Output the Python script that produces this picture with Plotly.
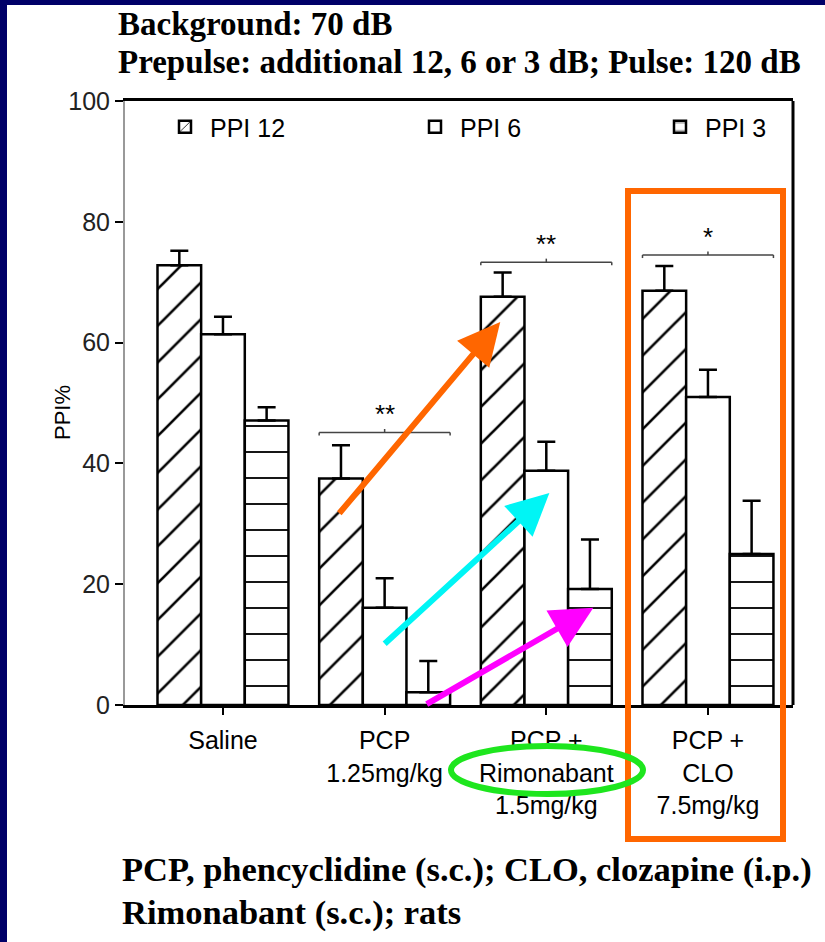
import plotly.graph_objects as go

# ---------------- data ----------------
categories = ["Saline", "PCP<br>1.25mg/kg", "PCP +<br>Rimonabant<br>1.5mg/kg", "PCP +<br>CLO<br>7.5mg/kg"]
series_names = ["PPI 12", "PPI 6", "PPI 3"]
ppi12 = [72.8, 37.5, 67.6, 68.6]
ppi12_err = [2.4, 5.5, 4.0, 4.1]
ppi6 = [61.4, 16.1, 38.8, 51.0]
ppi6_err = [2.9, 4.9, 4.8, 4.5]
ppi3 = [47.1, 2.1, 19.2, 25.0]
ppi3_err = [2.2, 5.2, 8.2, 8.8]
y_ticks = [0, 20, 40, 60, 80, 100]

sig_groups = [1, 2, 3]
sig_levels = [45.1, 73.3, 74.5]
sig_labels = ["**", "**", "*"]

title_lines = ["Background: 70 dB", "Prepulse: additional 12, 6 or 3 dB; Pulse: 120 dB"]
foot_lines = ["PCP, phencyclidine (s.c.); CLO, clozapine (i.p.)", "Rimonabant (s.c.); rats"]

# ---------------- geometry helpers (figure px -> paper) ----------------
W, H = 825, 942
L, R, T, B = 125, 793, 101, 705
def px(x):
    return (x - L) / (R - L)
def py(y):
    return (B - y) / (B - T)

SANS = "Liberation Sans, Arial, sans-serif"
SERIF = "Liberation Serif, Times New Roman, serif"

fig = go.Figure()
patterns = ["/", "", "-"]
values = [ppi12, ppi6, ppi3]
errs = [ppi12_err, ppi6_err, ppi3_err]
legend_ids = ["legend", "legend2", "legend3"]
for name, vals, err, pat, lg in zip(series_names, values, errs, patterns, legend_ids):
    fig.add_trace(go.Bar(
        name=name, x=categories, y=vals, legend=lg,
        marker=dict(color="white",
                    line=dict(color="black", width=2.5),
                    pattern=dict(shape=pat, fgcolor="black", bgcolor="white", fgopacity=1,
                                 size=26, solidity=0.1 if pat == "/" else 0.07,
                                 fillmode="replace")),
        error_y=dict(type="data", symmetric=False, array=err,
                     arrayminus=[0] * len(err), color="black",
                     thickness=2.5, width=9),
    ))

shapes = []
annotations = []
half = 0.405
for g, lvl, lab in zip(sig_groups, sig_levels, sig_labels):
    shapes.append(dict(type="line", xref="x", yref="y", x0=g - half, x1=g + half,
                       y0=lvl, y1=lvl, line=dict(color="#444", width=1.5)))
    shapes.append(dict(type="line", xref="x", yref="y", x0=g - half, x1=g - half,
                       y0=lvl, y1=lvl - 0.5, line=dict(color="#444", width=1.5)))
    shapes.append(dict(type="line", xref="x", yref="y", x0=g + half, x1=g + half,
                       y0=lvl, y1=lvl - 0.5, line=dict(color="#444", width=1.5)))
    shapes.append(dict(type="line", xref="x", yref="y", x0=g, x1=g,
                       y0=lvl, y1=lvl + 0.6, line=dict(color="#444", width=1.5)))
    annotations.append(dict(x=g, y=lvl + 0.2, xref="x", yref="y", text=lab,
                            showarrow=False, yanchor="bottom",
                            font=dict(family=SANS, size=26, color="black")))

# right frame border
shapes.append(dict(type="line", xref="paper", yref="paper", x0=1, x1=1, y0=0, y1=1,
                   line=dict(color="black", width=3)))

# navy slide frame
navy = "#000068"
shapes.append(dict(type="rect", xref="paper", yref="paper", x0=px(0), x1=px(7),
                   y0=py(H), y1=py(0), fillcolor=navy, line=dict(width=0), layer="above"))
shapes.append(dict(type="rect", xref="paper", yref="paper", x0=px(0), x1=px(W),
                   y0=py(5), y1=py(0), fillcolor=navy, line=dict(width=0), layer="above"))

# orange highlight rectangle
shapes.append(dict(type="rect", xref="paper", yref="paper", x0=px(628), x1=px(783),
                   y0=py(839), y1=py(191), line=dict(color="#FF6600", width=6),
                   layer="above"))
# green ellipse
shapes.append(dict(type="circle", xref="paper", yref="paper", x0=px(451), x1=px(643),
                   y0=py(794), y1=py(746), line=dict(color="#1EE61E", width=6),
                   layer="above"))

# arrows (tail -> tip), in data coords
arrows = [
    ("#FF6600", (0.712, 31.5), (1.715, 63.4)),
    ("#00F5F5", (0.991, 9.9), (2.019, 35.1)),
    ("#FF00FF", (1.251, 0.0), (2.291, 16.1)),
]
for col, tail, tip in arrows:
    annotations.append(dict(x=tip[0], y=tip[1], ax=tail[0], ay=tail[1],
                            xref="x", yref="y", axref="x", ayref="y",
                            text="", showarrow=True, arrowhead=2, arrowsize=1.4,
                            arrowwidth=6, arrowcolor=col))

# y axis title
annotations.append(dict(x=px(62), y=py(413), xref="paper", yref="paper", text="PPI%",
                        textangle=-90, showarrow=False, xanchor="center", yanchor="middle",
                        font=dict(family=SANS, size=22, color="black")))

# header lines
annotations.append(dict(x=px(116), y=py(24), xref="paper", yref="paper", text="<b>%s</b>" % title_lines[0],
                        showarrow=False, xanchor="left", yanchor="middle",
                        font=dict(family=SERIF, size=33, color="black")))
annotations.append(dict(x=px(116), y=py(62), xref="paper", yref="paper", text="<b>%s</b>" % title_lines[1],
                        showarrow=False, xanchor="left", yanchor="middle",
                        font=dict(family=SERIF, size=33, color="black")))
# footer lines
annotations.append(dict(x=px(120), y=py(869), xref="paper", yref="paper", text="<b>%s</b>" % foot_lines[0],
                        showarrow=False, xanchor="left", yanchor="middle",
                        font=dict(family=SERIF, size=34.5, color="black")))
annotations.append(dict(x=px(120), y=py(912), xref="paper", yref="paper", text="<b>%s</b>" % foot_lines[1],
                        showarrow=False, xanchor="left", yanchor="middle",
                        font=dict(family=SERIF, size=34.5, color="black")))

leg_common = dict(orientation="h", yanchor="middle", xanchor="left", itemwidth=40,
                  font=dict(family=SANS, size=25, color="black"),
                  bgcolor="rgba(0,0,0,0)")

fig.update_layout(
    width=W, height=H,
    margin=dict(l=L, r=W - R, t=T, b=H - B, autoexpand=False),
    paper_bgcolor="white", plot_bgcolor="white",
    barmode="group", bargap=0.19, bargroupgap=0,
    font=dict(family=SANS, size=22, color="black"),
    showlegend=True,
    legend=dict(x=px(160), y=py(127), **leg_common),
    legend2=dict(x=px(410), y=py(127), **leg_common),
    legend3=dict(x=px(655), y=py(127), **leg_common),
    xaxis=dict(range=[-0.606, 3.526], showline=True, linecolor="black", linewidth=3,
               mirror=True, ticks="outside", ticklen=7, tickwidth=1.5, tickcolor="black",
               tickfont=dict(family=SANS, size=25, color="black"), showgrid=False,
               ticklabelstandoff=4,
               zeroline=False, fixedrange=True),
    yaxis=dict(range=[0, 100], tickvals=y_ticks, showline=True, linecolor="#999",
               linewidth=2, ticks="outside", ticklen=8, tickwidth=2, tickcolor="black",
               tickfont=dict(family=SANS, size=25, color="#222"), showgrid=False,
               zeroline=False, fixedrange=True),
    shapes=shapes, annotations=annotations,
)

fig.write_html("out.html", config={"displayModeBar": False},
               post_script="document.body.style.margin='0';document.body.style.overflow='hidden';")
